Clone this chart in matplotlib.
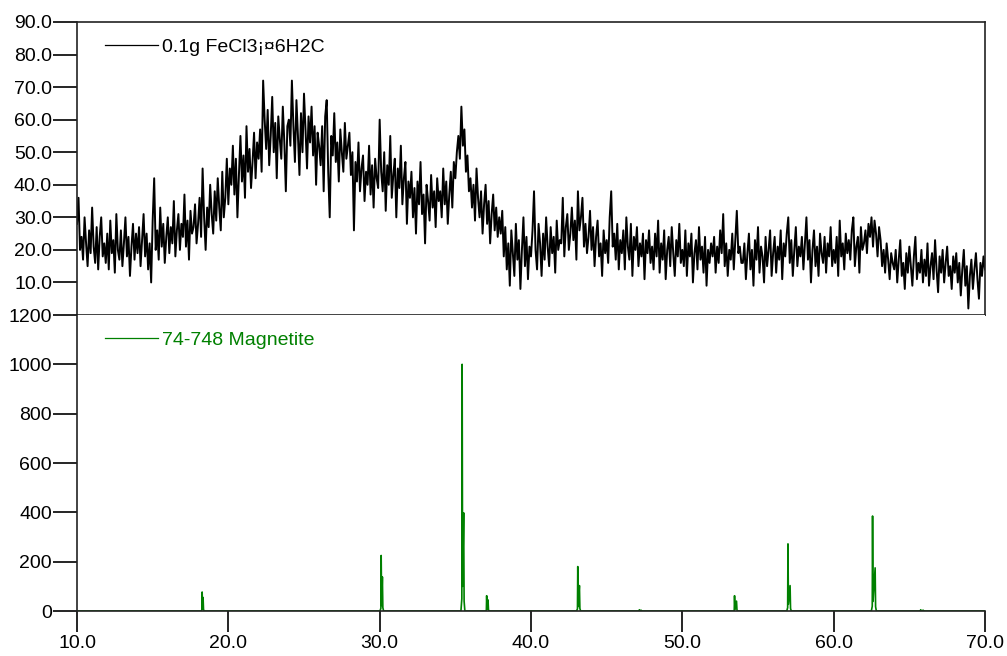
import numpy as np
import matplotlib
matplotlib.use("Agg")
import matplotlib.pyplot as plt

plt.rcParams['font.family'] = ['Liberation Sans', 'DejaVu Sans']

# ---------------- data ----------------
# measured pattern (2-theta scan starting at 10.0, step 0.1)
scan_start = 10.0
scan_step = 0.1
sample_counts = [
    28, 36, 20, 24, 17, 30, 22, 15, 26, 19, 33, 21, 16, 27, 14, 24, 30, 18, 22, 16,
    25, 14, 29, 19, 23, 13, 31, 20, 17, 26, 15, 22, 30, 18, 24, 12, 21, 28, 17, 25,
    19, 27, 15, 23, 31, 18, 25, 14, 22, 10, 29, 42, 20, 26, 17, 33, 21, 28, 16, 24,
    30, 19, 27, 22, 35, 18, 26, 31, 20, 28, 24, 37, 21, 29, 17, 32, 25, 27, 34, 22,
    28, 36, 24, 45, 30, 20, 33, 27, 40, 31, 25, 38, 29, 42, 33, 26, 44, 30, 36, 48,
    34, 45, 40, 52, 37, 48, 30, 43, 55, 41, 49, 36, 58, 44, 51, 39, 47, 56, 42, 53,
    48, 57, 44, 72, 60, 51, 63, 46, 55, 67, 50, 59, 42, 61, 54, 48, 64, 53, 38, 58,
    60, 52, 72, 58, 47, 66, 55, 43, 62, 50, 68, 57, 45, 61, 53, 64, 49, 58, 40, 56,
    52, 46, 58, 38, 61, 66, 44, 30, 55, 49, 62, 47, 53, 41, 57, 50, 44, 59, 48, 52,
    56, 43, 50, 26, 47, 41, 53, 38, 45, 49, 35, 44, 40, 52, 37, 46, 33, 48, 42, 39,
    60, 44, 38, 50, 32, 46, 40, 55, 36, 43, 48, 30, 45, 39, 52, 34, 42, 47, 28, 41,
    36, 44, 30, 39, 25, 41, 34, 47, 31, 37, 22, 40, 35, 29, 43, 33, 38, 27, 42, 35,
    38, 30, 45, 34, 41, 28, 37, 44, 33, 47, 42, 50, 55, 48, 64, 52, 57, 44, 49, 38,
    42, 33, 40, 29, 45, 36, 30, 38, 25, 34, 40, 28, 35, 22, 31, 37, 26, 33, 24, 30,
    25, 32, 18, 27, 14, 22, 9, 26, 19, 12, 28, 17, 23, 8, 20, 30, 15, 24, 11, 21,
    18, 26, 38, 20, 14, 28, 22, 12, 25, 17, 30, 21, 15, 27, 19, 24, 13, 29, 20, 23,
    22, 36, 18, 27, 31, 20, 25, 33, 23, 29, 17, 38, 26, 30, 36, 21, 28, 19, 24, 32,
    20, 27, 15, 24, 29, 18, 22, 12, 26, 19, 23, 16, 30, 38, 21, 25, 17, 28, 14, 23,
    19, 26, 14, 30, 21, 17, 28, 12, 24, 20, 27, 15, 22, 18, 25, 11, 23, 19, 26, 16,
    21, 14, 25, 18, 29, 13, 22, 17, 26, 11, 20, 24, 15, 27, 19, 12, 23, 18, 28, 16,
    20, 15, 26, 12, 22, 18, 25, 10, 19, 23, 14, 27, 17, 21, 13, 24, 9, 20, 16, 22,
    18, 24, 13, 21, 16, 26, 19, 31, 15, 22, 12, 20, 17, 25, 14, 23, 32, 19, 21, 16,
    16, 22, 11, 19, 25, 14, 20, 9, 23, 17, 27, 13, 21, 18, 10, 24, 15, 20, 26, 12,
    19, 24, 13, 21, 17, 26, 11, 22, 18, 25, 30, 16, 23, 12, 20, 27, 15, 21, 18, 24,
    14, 22, 30, 17, 23, 10, 20, 26, 15, 21, 12, 25, 19, 16, 24, 13, 22, 18, 27, 15,
    20, 16, 24, 12, 29, 18, 22, 14, 25, 19, 23, 17, 26, 30, 15, 21, 24, 13, 27, 20,
    22, 26, 19, 28, 24, 30, 21, 29, 25, 18, 27, 23, 15, 20, 13, 22, 17, 11, 19, 16,
    14, 20, 10, 17, 23, 12, 16, 8, 19, 13, 21, 15, 9, 18, 24, 11, 16, 13, 20, 10,
    17, 12, 22, 9, 15, 19, 11, 23, 14, 7, 18, 13, 20, 10, 16, 21, 12, 15, 8, 18,
    13, 19, 10, 16, 6, 14, 20, 9, 15, 2, 12, 17, 8, 14, 19, 11, 5, 16, 12, 18, 14,
]
sample_label = "0.1g FeCl3¡¤6H2C"

# reference card 74-748 Magnetite: K-alpha1 / K-alpha2 peak positions and heights
ref_pos1 = [18.27, 30.10, 35.45, 37.07, 43.09, 47.16, 53.45, 56.98, 62.57, 65.75]
ref_h1 = [77, 225, 1000, 62, 180, 5, 62, 272, 385, 5]
ref_pos2 = [18.33, 30.18, 35.55, 37.16, 43.20, 47.28, 53.58, 57.12, 62.74, 65.92]
ref_h2 = [55, 138, 398, 45, 103, 3, 40, 103, 175, 3]
ref_label = "74-748 Magnetite"

x_ticks = [10, 20, 30, 40, 50, 60, 70]
top_yticks = [10, 20, 30, 40, 50, 60, 70, 80, 90]
bot_yticks = [0, 200, 400, 600, 800, 1000, 1200]

# ---------------- build traces ----------------
two_theta = scan_start + scan_step * np.arange(len(sample_counts))
counts = np.array(sample_counts, dtype=float)

ref_x = [10.0]
ref_y = [0.0]
for p1, h1, p2, h2 in zip(ref_pos1, ref_h1, ref_pos2, ref_h2):
    ref_x += [p1 - 0.08, p1 - 0.02, p1, p1 + 0.03, p2, p2 + 0.03, p2 + 0.08]
    ref_y += [0, 0.05 * h1, h1, 0.1 * h1, h2, 0.1 * h2, 0]
ref_x.append(70.0)
ref_y.append(0.0)

# ---------------- figure ----------------
fig = plt.figure(figsize=(10.07, 6.56), dpi=100)
left, right = 77 / 1007, 985 / 1007
y_top, y_mid, y_bot = 1 - 22 / 656, 1 - 315 / 656, 1 - 611 / 656
ax1 = fig.add_axes([left, y_mid, right - left, y_top - y_mid])
ax2 = fig.add_axes([left, y_bot, right - left, y_mid - y_bot])

green = "#008000"
fs = 14

ax1.plot(two_theta, counts, color="black", lw=1.4, label=sample_label)
ax1.set_xlim(10, 70)
ax1.set_ylim(0, 90)
ax1.set_yticks(top_yticks)
ax1.set_yticklabels([f"{v:.1f}" for v in top_yticks])
ax1.set_xticks([])
ax1.tick_params(axis="y", direction="out", length=17, width=1.2, labelsize=fs, pad=1)
for s in ax1.spines.values():
    s.set_linewidth(1.2)
    s.set_color("#222222")
leg1 = ax1.legend(loc="upper left", bbox_to_anchor=(0.018, 0.985), frameon=False, fontsize=fs,
                  handlelength=2.7, handletextpad=0.25, borderaxespad=0.2)
for h in leg1.legend_handles:
    h.set_linewidth(0.9)

ax2.plot(ref_x, ref_y, color=green, lw=1.2, label=ref_label)
ax2.set_xlim(10, 70)
ax2.set_ylim(0, 1200)
ax2.set_yticks(bot_yticks)
ax2.set_yticklabels([str(v) for v in bot_yticks])
ax2.set_xticks(x_ticks)
ax2.set_xticklabels([f"{v:.1f}" for v in x_ticks])
ax2.tick_params(axis="y", direction="out", length=17, width=1.2, labelsize=fs, pad=1)
ax2.tick_params(axis="x", direction="out", length=15, width=1.2, labelsize=fs, pad=2)
ax2.spines["right"].set_visible(False)
ax2.spines["top"].set_visible(False)
for k in ("left", "bottom"):
    ax2.spines[k].set_linewidth(1.2)
    ax2.spines[k].set_color("#222222")
leg2 = ax2.legend(loc="upper left", bbox_to_anchor=(0.018, 0.985), frameon=False, fontsize=fs,
                  handlelength=2.7, handletextpad=0.25, borderaxespad=0.2)
for h in leg2.legend_handles:
    h.set_linewidth(0.9)
for t in leg2.get_texts():
    t.set_color(green)

fig.savefig("out.png", dpi=100)
